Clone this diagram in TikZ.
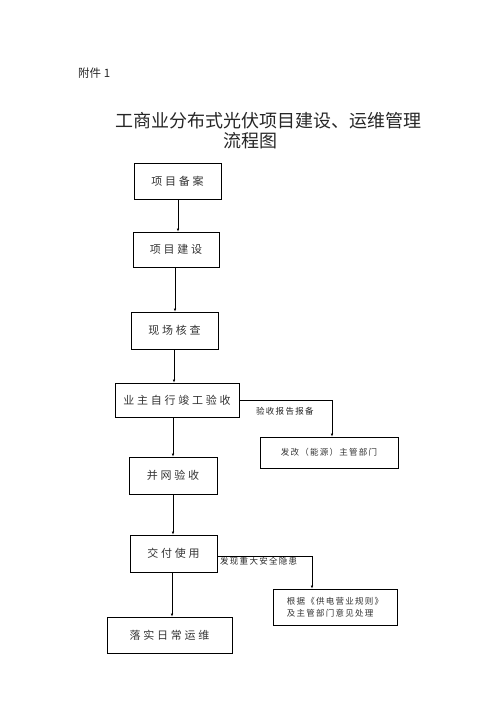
\documentclass[tikz,border=0pt]{standalone}
\usepackage{fontspec}
\usetikzlibrary{arrows.meta}
\newfontfamily\cjk{Noto Sans CJK SC}
\newfontfamily\cjksp[LetterSpace=25]{Noto Sans CJK SC}
\newfontfamily\cjkspb[LetterSpace=15]{Noto Sans CJK SC}
\begin{document}
\begin{tikzpicture}[x=1pt,y=-1pt,
  box/.style={draw=black, line width=0.7pt, minimum width=#1, inner sep=0pt, text=black!80},
  big/.style={font=\cjksp\fontsize{11}{12}\selectfont},
  small/.style={font=\cjkspb\fontsize{8.5}{12}\selectfont},
  arr/.style={draw=black, line width=0.6pt, -{Latex[length=3pt,width=2.5pt]}},
  lab/.style={text=black!85, inner sep=0pt}]
\useasboundingbox (0,0) rectangle (500,706);
\node[lab, anchor=west, font=\cjk\fontsize{11.5}{13}\selectfont] (att) at (78,73) {附件\ 1};
\node[lab, font=\cjk\fontsize{18}{21}\selectfont] (t1) at (268,121) {工商业分布式光伏项目建设、运维管理};
\node[lab, font=\cjk\fontsize{18}{21}\selectfont] (t2) at (250,141) {流程图};
\node[box=87pt, minimum height=36pt, big] (b1) at (177.5,181) {项目备案};
\node[box=86pt, minimum height=35pt, big] (b2) at (176,249.5) {项目建设};
\node[box=87pt, minimum height=37pt, big] (b3) at (174.5,330.5) {现场核查};
\node[box=124pt, minimum height=34pt, big] (b4) at (177,400) {业主自行竣工验收};
\node[box=138pt, minimum height=31pt, small] (b5) at (329,452.5) {发改（能源）主管部门};
\node[box=88pt, minimum height=37pt, big] (b6) at (173,475.5) {并网验收};
\node[box=87pt, minimum height=37pt, big] (b7) at (173.5,553.5) {交付使用};
\node[box=124pt, minimum height=36pt, small, align=left] (b8) at (335,607) {根据《供电营业规则》\\及主管部门意见处理};
\node[box=125pt, minimum height=36pt, big] (b9) at (169.5,635) {落实日常运维};
\node[lab, anchor=west, small] (l1) at (256,411) {验收报告报备};
\node[lab, anchor=west, small] (l2) at (220,561) {发现重大安全隐患};
\draw[arr] ([xshift=0.5pt]b1.south) -- ([xshift=0.5pt]b1.south |- b2.north);
\draw[arr] ([xshift=-1pt]b2.south) -- ([xshift=-1pt]b2.south |- b3.north);
\draw[arr] ([xshift=-0.5pt]b3.south) -- ([xshift=-0.5pt]b3.south |- b4.north);
\draw[arr] ([xshift=-4pt]b4.south) -- ([xshift=-4pt]b4.south |- b6.north);
\draw[arr] (b6.south) -- (b6.south |- b7.north);
\draw[arr] ([xshift=-1.5pt]b7.south) -- ([xshift=-1.5pt]b7.south |- b9.north);
\draw[arr] (b4.east) -| ([xshift=3pt]b5.north);
\draw[arr] ([yshift=-2.5pt]b7.east) -| ([xshift=-23pt]b8.north);
\end{tikzpicture}
\end{document}
